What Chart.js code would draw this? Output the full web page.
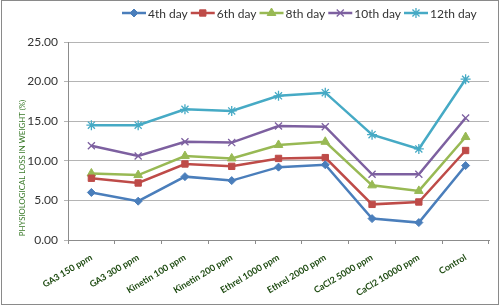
<!DOCTYPE html>
<html><head><meta charset="utf-8">
<script src="https://cdn.jsdelivr.net/npm/chart.js@4"></script>
<style>html,body{margin:0;padding:0;background:#fff}#wrap{width:500px;height:307px;position:relative}</style>
</head><body><div id="wrap"><canvas id="c" width="500" height="307"></canvas></div>
<script>
const categories = ["GA3 150 ppm","GA3 300 ppm","Kinetin 100 ppm","Kinetin 200 ppm","Ethrel 1000 ppm","Ethrel 2000 ppm","CaCl2 5000 ppm","CaCl2 10000 ppm","Control"];
const seriesNames = ["4th day","6th day","8th day","10th day","12th day"];
const day4  = [6.0, 4.9, 8.0, 7.5, 9.2, 9.5, 2.7, 2.2, 9.4];
const day6  = [7.8, 7.2, 9.6, 9.3, 10.3, 10.4, 4.5, 4.8, 11.3];
const day8  = [8.4, 8.2, 10.6, 10.3, 12.0, 12.4, 6.9, 6.2, 13.0];
const day10 = [11.9, 10.6, 12.4, 12.3, 14.4, 14.3, 8.3, 8.3, 15.4];
const day12 = [14.5, 14.5, 16.5, 16.3, 18.2, 18.6, 13.3, 11.5, 20.3];
const yTicks = [0, 5, 10, 15, 20, 25];
const yTitle = 'PHYSIOLOGICAL LOSS IN WEIGHT (%)';

const colors = ["#4A7EBB","#BE4B48","#98B954","#7D60A0","#46AAC5"];
const styles = ["rectRot","rect","triangle","crossRot","star"];
const radii = [4,4.5,5,5,5];
const values = [day4, day6, day8, day10, day12];

const datasets = values.map((v,i)=>({
  label: seriesNames[i], data: v,
  borderColor: colors[i], backgroundColor: colors[i],
  borderWidth: 2.5, pointStyle: styles[i], pointRadius: radii[i],
  pointBorderColor: colors[i], pointBackgroundColor: colors[i], pointBorderWidth: (i>=3?1.3:1),
  tension: 0
}));

const decor = {
  id:'decor',
  afterDraw(chart){
    const ctx = chart.ctx;
    ctx.save();
    ctx.font = '12px Lato';
    ctx.textBaseline = 'middle';
    let x = 122; const y = 13;
    chart.data.datasets.forEach((ds)=>{
      ctx.strokeStyle = ds.borderColor; ctx.fillStyle = ds.borderColor; ctx.lineWidth = 2.5;
      ctx.beginPath(); ctx.moveTo(x,y); ctx.lineTo(x+24,y); ctx.stroke();
      ctx.lineWidth = ds.pointBorderWidth;
      Chart.helpers.drawPoint(ctx,{pointStyle:ds.pointStyle,radius:ds.pointRadius,rotation:0,borderWidth:ds.pointBorderWidth},x+12,y);
      ctx.fillStyle = '#333';
      ctx.fillText(ds.label, x+26, y+1);
      x += 26 + ctx.measureText(ds.label).width + 3;
    });
    // y axis title
    ctx.save();
    ctx.translate(22, 168);
    ctx.rotate(-Math.PI/2);
    ctx.font = '7.8px Lato';
    ctx.fillStyle = '#3a7a2a';
    ctx.textAlign = 'center';
    ctx.textBaseline = 'middle';
    ctx.fillText(yTitle, 0, 0);
    ctx.restore();
    ctx.strokeStyle = '#8a8a8a'; ctx.lineWidth = 1;
    ctx.strokeRect(1.5, 0.5, 497, 304);
    ctx.restore();
  }
};

new Chart(document.getElementById('c'), {
  type:'line',
  data:{ labels: categories, datasets },
  options:{
    responsive:false, animation:false,
    layout:{ padding:{left:0, top:42, right:11, bottom:0} },
    plugins:{ legend:{display:false}, tooltip:{enabled:false} },
    scales:{
      x:{
        offset:true,
        grid:{ offset:true, drawOnChartArea:false, drawTicks:true, tickLength:4, color:'#8c8c8c' },
        border:{ color:'#8c8c8c', width:1 },
        ticks:{ minRotation:31, maxRotation:31, autoSkip:false, color:'#1d4a10', font:{family:'Lato', size:9, weight:'bold'}, padding:8 },
        afterFit(s){ s.height = 307 - 240; }
      },
      y:{
        min:0, max:25,
        afterBuildTicks(s){ s.ticks = yTicks.map(v=>({value:v})); },
        grid:{ color:'#b4b4b4', tickLength:4, lineWidth:1 },
        border:{ color:'#8c8c8c', width:1 },
        ticks:{ color:'#333', font:{family:'Lato', size:12}, padding:6, callback:(v)=>Number(v).toFixed(2) },
        afterFit(s){ s.width = 68; }
      }
    }
  },
  plugins:[decor]
});
</script></body></html>
